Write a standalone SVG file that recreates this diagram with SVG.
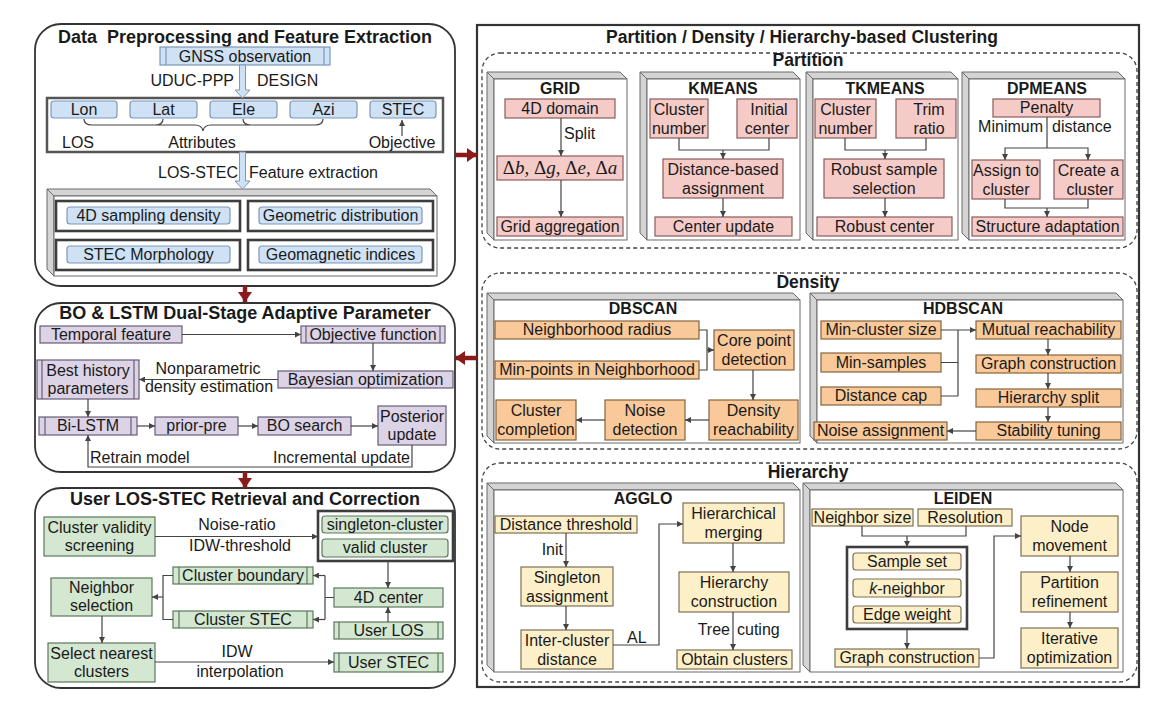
<svg xmlns="http://www.w3.org/2000/svg" width="1172" height="712" viewBox="0 0 1172 712">
<defs>
<style>
text{font-family:"Liberation Sans",Arial,sans-serif;font-size:16px;fill:#1a1a1a;text-anchor:middle}
.s{text-anchor:start}.e{text-anchor:end}
.h{font-weight:bold;font-size:17.5px}
.hl{font-weight:bold;font-size:18px}
.h2{font-weight:bold;font-size:16px}
.panel{fill:#fff;stroke:#333;stroke-width:1.8}
.dash{fill:none;stroke:#444;stroke-width:1.3;stroke-dasharray:4 3}
.bev{fill:#d4d4d4;stroke:#6a6a6a;stroke-width:1}
.front{fill:#fff;stroke:#6a6a6a;stroke-width:1}
.grp{fill:#fff;stroke:#3d3d3d;stroke-width:2.6}
.blue{fill:#cfe1f4;stroke:#7d98b9;stroke-width:1.2}
.pink{fill:#f5cbc8;stroke:#8a5c5c;stroke-width:1.2}
.orange{fill:#f9c999;stroke:#86653f;stroke-width:1.2}
.yellow{fill:#fdf0c9;stroke:#7d7055;stroke-width:1.2}
.green{fill:#d4e7d1;stroke:#5b785b;stroke-width:1.2}
.purple{fill:#dcd3e7;stroke:#675e77;stroke-width:1.2}
.c{fill:none;stroke:#444;stroke-width:1.2}
.ca{fill:none;stroke:#444;stroke-width:1.2;marker-end:url(#a)}
.red{fill:none;stroke:#8b1a1a;stroke-width:4.5;marker-end:url(#ar)}
.hol{fill:#cfe1f4;stroke:#7d98b9;stroke-width:1}
.math{font-family:"Liberation Serif","DejaVu Serif",serif;font-size:19px}
</style>
<marker id="a" viewBox="0 0 8 8" refX="8" refY="4" markerWidth="6" markerHeight="6" markerUnits="userSpaceOnUse" orient="auto"><path d="M0,0 L8,4 L0,8 z" fill="#444"/></marker>
<marker id="ar" viewBox="0 0 10 10" refX="10" refY="5" markerWidth="10" markerHeight="14" markerUnits="userSpaceOnUse" orient="auto" preserveAspectRatio="none"><path d="M0,0 L10,5 L0,10 z" fill="#8b1a1a"/></marker>
</defs>

<!-- ===== Panel 1 ===== -->
<g id="panel-preprocessing">
<rect class="panel" x="35" y="24" width="420" height="262" rx="26"/>
<text class="hl" x="245" y="43" style="white-space:pre">Data  Preprocessing and Feature Extraction</text>
</g>
<g id="gnss">
<rect class="blue" x="160" y="47" width="170" height="18"/>
<line class="blue" x1="166" y1="47" x2="166" y2="65"/><line class="blue" x1="324" y1="47" x2="324" y2="65"/>
<text x="245" y="61.5">GNSS observation</text>
</g>
<g id="attributes">
<rect x="47" y="98" width="396" height="54" fill="#fff" stroke="#555" stroke-width="2.5"/>
<rect class="blue" x="51" y="101" width="66" height="17" rx="3"/><text x="84" y="115">Lon</text>
<rect class="blue" x="130" y="101" width="67" height="17" rx="3"/><text x="163.5" y="115">Lat</text>
<rect class="blue" x="210" y="101" width="67" height="17" rx="3"/><text x="243.5" y="115">Ele</text>
<rect class="blue" x="290" y="101" width="67" height="17" rx="3"/><text x="323.5" y="115">Azi</text>
<rect class="blue" x="370" y="101" width="66" height="17" rx="3"/><text x="403" y="115">STEC</text>
<path class="c" d="M84,119 Q84,125 92,125 L195,125 Q202,125 203,131 Q204,125 211,125 L315,125 Q323,125 323,119 M155,125 Q163,125 163,119 M243,119 Q243,125 251,125"/>
<text x="78" y="148">LOS</text>
<text x="202" y="148">Attributes</text>
<text x="402" y="148">Objective</text>
</g>
<g id="features">
<polygon class="bev" points="47,189 430,189 437,196 54,196"/>
<polygon class="bev" points="47,189 54,196 54,276 47,269"/>
<rect class="front" x="54" y="196" width="383" height="80"/>
<rect class="grp" x="56" y="201" width="184" height="30"/>
<rect class="grp" x="248" y="201" width="185" height="30"/>
<rect class="grp" x="56" y="240" width="184" height="30"/>
<rect class="grp" x="248" y="240" width="185" height="30"/>
<rect class="blue" x="67" y="207" width="163" height="17" rx="3"/><text x="148.5" y="221">4D sampling density</text>
<rect class="blue" x="259" y="207" width="163" height="17" rx="3"/><text x="340.5" y="221">Geometric distribution</text>
<rect class="blue" x="67" y="246" width="163" height="17" rx="3"/><text x="148.5" y="260">STEC Morphology</text>
<rect class="blue" x="259" y="246" width="163" height="17" rx="3"/><text x="340.5" y="260">Geomagnetic indices</text>
</g>

<!-- ===== Panel 2 ===== -->
<g id="panel-bo-lstm">
<rect class="panel" x="35" y="303" width="420" height="169" rx="26"/>
<text class="hl" x="245" y="319">BO &amp; LSTM Dual-Stage Adaptive Parameter</text>
</g>
<g id="temporal"><rect class="purple" x="40" y="326" width="142" height="17"/><text x="111" y="340">Temporal feature</text></g>
<g id="objective"><rect class="purple" x="301" y="326" width="144" height="17"/>
<line class="purple" x1="306" y1="326" x2="306" y2="343"/><line class="purple" x1="440" y1="326" x2="440" y2="343"/>
<text x="373" y="340">Objective function</text></g>
<g id="bayes"><rect class="purple" x="278" y="371" width="175" height="17"/><text x="365.5" y="385">Bayesian optimization</text></g>
<g id="besthist"><rect class="purple" x="37" y="360" width="102" height="39"/>
<line class="purple" x1="42" y1="360" x2="42" y2="399"/><line class="purple" x1="134" y1="360" x2="134" y2="399"/>
<text x="88"><tspan x="88" y="376">Best history</tspan><tspan x="88" y="394">parameters</tspan></text></g>
<g id="bilstm"><rect class="purple" x="39" y="417" width="98" height="18"/>
<line class="purple" x1="45" y1="417" x2="45" y2="435"/><line class="purple" x1="131" y1="417" x2="131" y2="435"/>
<text x="88" y="431">Bi-LSTM</text></g>
<g id="priorpre"><rect class="purple" x="155" y="417" width="83" height="18"/><text x="196.5" y="431">prior-pre</text></g>
<g id="bosearch"><rect class="purple" x="258" y="417" width="93" height="18"/><text x="304.5" y="431">BO search</text></g>
<g id="posterior"><rect class="purple" x="378" y="406" width="68" height="39"/>
<text x="412"><tspan x="412" y="422">Posterior</tspan><tspan x="412" y="440">update</tspan></text></g>

<!-- ===== Panel 3 ===== -->
<g id="panel-user">
<rect class="panel" x="35" y="488" width="420" height="200" rx="26"/>
<text class="hl" x="245" y="505">User LOS-STEC Retrieval and Correction</text>
</g>
<g id="validity"><rect class="green" x="44" y="517" width="111" height="39"/>
<text x="99.5"><tspan x="99.5" y="533">Cluster validity</tspan><tspan x="99.5" y="551">screening</tspan></text></g>
<g id="clustertypes"><rect class="grp" x="318" y="511" width="135" height="50"/>
<rect class="green" x="322" y="516" width="126" height="17" rx="3"/><text x="385" y="530">singleton-cluster</text>
<rect class="green" x="322" y="539" width="126" height="18" rx="3"/><text x="385" y="553">valid cluster</text></g>
<g id="boundary"><rect class="green" x="173" y="567" width="140" height="17"/>
<line class="green" x1="179" y1="567" x2="179" y2="584"/><line class="green" x1="307" y1="567" x2="307" y2="584"/>
<text x="243" y="581">Cluster boundary</text></g>
<g id="clusterstec"><rect class="green" x="173" y="611" width="140" height="17"/>
<line class="green" x1="179" y1="611" x2="179" y2="628"/><line class="green" x1="307" y1="611" x2="307" y2="628"/>
<text x="243" y="625">Cluster STEC</text></g>
<g id="neighbor"><rect class="green" x="51" y="578" width="101" height="38"/>
<text x="101.5"><tspan x="101.5" y="593">Neighbor</tspan><tspan x="101.5" y="611">selection</tspan></text></g>
<g id="center4d"><rect class="green" x="334" y="588" width="109" height="19"/><text x="388.5" y="603">4D center</text></g>
<g id="userlos"><rect class="green" x="334" y="622" width="109" height="17"/>
<line class="green" x1="339" y1="622" x2="339" y2="639"/><line class="green" x1="438" y1="622" x2="438" y2="639"/>
<text x="388.5" y="636">User LOS</text></g>
<g id="nearest"><rect class="green" x="48" y="643" width="107" height="39"/>
<text x="101.5"><tspan x="101.5" y="659">Select nearest</tspan><tspan x="101.5" y="677">clusters</tspan></text></g>
<g id="userstec"><rect class="green" x="334" y="653" width="109" height="19"/>
<line class="green" x1="339" y1="653" x2="339" y2="672"/><line class="green" x1="438" y1="653" x2="438" y2="672"/>
<text x="388.5" y="668">User STEC</text></g>

<!-- ===== Right panel ===== -->
<g id="panel-clustering">
<rect x="477" y="25" width="662" height="662" fill="#fff" stroke="#333" stroke-width="2.2"/>
<text class="h" x="802" y="43">Partition / Density / Hierarchy-based Clustering</text>
<rect class="dash" x="482" y="53" width="655" height="195" rx="18"/>
<text class="h" x="808" y="66">Partition</text>
<rect class="dash" x="482" y="273" width="655" height="176" rx="18"/>
<text class="h" x="808" y="288">Density</text>
<rect class="dash" x="482" y="463" width="655" height="219" rx="18"/>
<text class="h" x="808" y="478">Hierarchy</text>
</g>

<g id="grid">
<polygon class="bev" points="487,72 620,72 627,79 494,79"/><polygon class="bev" points="487,72 494,79 494,240 487,233"/>
<rect class="front" x="494" y="79" width="133" height="161"/>
<text class="h2" x="560" y="94">GRID</text>
<rect class="pink" x="505" y="99" width="110" height="19"/><text x="560" y="113.5">4D domain</text>
<rect class="pink" x="497" y="156" width="126" height="24"/>
<text class="math" x="560" y="174">Δ<tspan font-style="italic">b</tspan>, Δ<tspan font-style="italic">g</tspan>, Δ<tspan font-style="italic">e</tspan>, Δ<tspan font-style="italic">a</tspan></text>
<rect class="pink" x="497" y="217" width="126" height="19"/><text x="560" y="231.5">Grid aggregation</text>
</g>
<g id="kmeans">
<polygon class="bev" points="640,72 793,72 800,79 647,79"/><polygon class="bev" points="640,72 647,79 647,240 640,233"/>
<rect class="front" x="647" y="79" width="153" height="161"/>
<text class="h2" x="723" y="94">KMEANS</text>
<rect class="pink" x="650" y="99" width="58" height="39"/><text x="679"><tspan x="679" y="115">Cluster</tspan><tspan x="679" y="134">number</tspan></text>
<rect class="pink" x="737" y="99" width="60" height="39"/><text x="767"><tspan x="769" y="115">Initial</tspan><tspan x="767" y="134">center</tspan></text>
<rect class="pink" x="663" y="159" width="120" height="39"/><text x="723"><tspan x="723" y="175">Distance-based</tspan><tspan x="723" y="194">assignment</tspan></text>
<rect class="pink" x="655" y="217" width="137" height="19"/><text x="723.5" y="231.5">Center update</text>
</g>
<g id="tkmeans">
<polygon class="bev" points="806,72 951,72 958,79 813,79"/><polygon class="bev" points="806,72 813,79 813,240 806,233"/>
<rect class="front" x="813" y="79" width="145" height="161"/>
<text class="h2" x="885" y="94">TKMEANS</text>
<rect class="pink" x="815" y="99" width="61" height="39"/><text x="845.5"><tspan x="845.5" y="115">Cluster</tspan><tspan x="845.5" y="134">number</tspan></text>
<rect class="pink" x="896" y="99" width="60" height="39"/><text x="926"><tspan x="929" y="115">Trim</tspan><tspan x="929" y="134">ratio</tspan></text>
<rect class="pink" x="824" y="159" width="120" height="39"/><text x="884"><tspan x="884" y="175">Robust sample</tspan><tspan x="884" y="194">selection</tspan></text>
<rect class="pink" x="817" y="217" width="135" height="19"/><text x="884.5" y="231.5">Robust center</text>
</g>
<g id="dpmeans">
<polygon class="bev" points="962,72 1118,72 1125,79 969,79"/><polygon class="bev" points="962,72 969,79 969,240 962,233"/>
<rect class="front" x="969" y="79" width="156" height="161"/>
<text class="h2" x="1047" y="94">DPMEANS</text>
<rect class="pink" x="993" y="99" width="107" height="18"/><text x="1046.5" y="113">Penalty</text>
<text class="e" x="1043" y="132">Minimum</text><text class="s" x="1052" y="132">distance</text>
<rect class="pink" x="972" y="160" width="68" height="39"/><text x="1006"><tspan x="1006" y="176">Assign to</tspan><tspan x="1006" y="195">cluster</tspan></text>
<rect class="pink" x="1054" y="160" width="69" height="39"/><text x="1088.5"><tspan x="1088.5" y="176">Create a</tspan><tspan x="1090" y="195">cluster</tspan></text>
<rect class="pink" x="972" y="217" width="151" height="19"/><text x="1047.5" y="231.5">Structure adaptation</text>
</g>

<g id="dbscan">
<polygon class="bev" points="487,293 793,293 800,300 494,300"/><polygon class="bev" points="487,293 494,300 494,443 487,436"/>
<rect class="front" x="494" y="300" width="306" height="143"/>
<text class="h2" x="643" y="314">DBSCAN</text>
<rect class="orange" x="495" y="321" width="204" height="18"/><text x="597" y="335">Neighborhood radius</text>
<rect class="orange" x="495" y="361" width="204" height="18"/><text x="597" y="375">Min-points in Neighborhood</text>
<rect class="orange" x="714" y="330" width="80" height="40"/><text x="754"><tspan x="754" y="346">Core point</tspan><tspan x="754" y="365">detection</tspan></text>
<rect class="orange" x="709" y="400" width="89" height="40"/><text x="753.5"><tspan x="753.5" y="416">Density</tspan><tspan x="753.5" y="435">reachability</tspan></text>
<rect class="orange" x="605" y="400" width="80" height="40"/><text x="645"><tspan x="645" y="416">Noise</tspan><tspan x="645" y="435">detection</tspan></text>
<rect class="orange" x="496" y="400" width="80" height="40"/><text x="536"><tspan x="536" y="416">Cluster</tspan><tspan x="536" y="435">completion</tspan></text>
</g>
<g id="hdbscan">
<polygon class="bev" points="810,293 1116,293 1123,300 817,300"/><polygon class="bev" points="810,293 817,300 817,443 810,436"/>
<rect class="front" x="817" y="300" width="306" height="143"/>
<text class="h2" x="963" y="314">HDBSCAN</text>
<rect class="orange" x="821" y="321" width="120" height="18"/><text x="881" y="335">Min-cluster size</text>
<rect class="orange" x="821" y="353" width="120" height="19"/><text x="881" y="367.5">Min-samples</text>
<rect class="orange" x="821" y="387" width="120" height="18"/><text x="881" y="401">Distance cap</text>
<rect class="orange" x="976" y="321" width="145" height="18"/><text x="1048.5" y="335">Mutual reachability</text>
<rect class="orange" x="976" y="355" width="145" height="18"/><text x="1048.5" y="369">Graph construction</text>
<rect class="orange" x="976" y="389" width="145" height="18"/><text x="1048.5" y="403">Hierarchy split</text>
<rect class="orange" x="976" y="422" width="145" height="18"/><text x="1048.5" y="436">Stability tuning</text>
<rect class="orange" x="814" y="422" width="133" height="18"/><text x="880.5" y="436">Noise assignment</text>
</g>

<g id="agglo">
<polygon class="bev" points="487,483 793,483 800,490 494,490"/><polygon class="bev" points="487,483 494,490 494,672 487,665"/>
<rect class="front" x="494" y="490" width="306" height="182"/>
<text class="h2" x="643" y="504">AGGLO</text>
<rect class="yellow" x="495" y="516" width="142" height="17"/><text x="566" y="530">Distance threshold</text>
<rect class="yellow" x="521" y="567" width="92" height="39"/><text x="567"><tspan x="567" y="583">Singleton</tspan><tspan x="567" y="602">assignment</tspan></text>
<rect class="yellow" x="521" y="630" width="92" height="39"/><text x="567"><tspan x="567" y="646">Inter-cluster</tspan><tspan x="567" y="665">distance</tspan></text>
<rect class="yellow" x="683" y="503" width="101" height="40"/><text x="733.5"><tspan x="733.5" y="519">Hierarchical</tspan><tspan x="733.5" y="538">merging</tspan></text>
<rect class="yellow" x="679" y="572" width="110" height="40"/><text x="734"><tspan x="734" y="588">Hierarchy</tspan><tspan x="734" y="607">construction</tspan></text>
<rect class="yellow" x="677" y="650" width="115" height="19"/><text x="734.5" y="664.5">Obtain clusters</text>
</g>
<g id="leiden">
<polygon class="bev" points="803,483 1116,483 1123,490 810,490"/><polygon class="bev" points="803,483 810,490 810,672 803,665"/>
<rect class="front" x="810" y="490" width="313" height="182"/>
<text class="h2" x="963" y="504">LEIDEN</text>
<rect class="yellow" x="812" y="509" width="101" height="17"/><text x="862.5" y="523">Neighbor size</text>
<rect class="yellow" x="918" y="509" width="94" height="17"/><text x="965" y="523">Resolution</text>
<rect class="grp" x="847" y="547" width="120" height="82"/>
<rect class="yellow" x="853" y="553" width="108" height="17" rx="3"/><text x="907" y="567">Sample set</text>
<rect class="yellow" x="853" y="579" width="108" height="18" rx="3"/><text x="907" y="593.5"><tspan font-style="italic">k</tspan>-neighbor</text>
<rect class="yellow" x="853" y="606" width="108" height="17" rx="3"/><text x="907" y="620">Edge weight</text>
<rect class="yellow" x="835" y="649" width="144" height="18"/><text x="907" y="663">Graph construction</text>
<rect class="yellow" x="1021" y="516" width="97" height="40"/><text x="1069.5"><tspan x="1069.5" y="532">Node</tspan><tspan x="1069.5" y="551">movement</tspan></text>
<rect class="yellow" x="1021" y="572" width="97" height="40"/><text x="1069.5"><tspan x="1069.5" y="588">Partition</tspan><tspan x="1069.5" y="607">refinement</tspan></text>
<rect class="yellow" x="1021" y="628" width="97" height="40"/><text x="1069.5"><tspan x="1069.5" y="644">Iterative</tspan><tspan x="1069.5" y="663">optimization</tspan></text>
</g>

<!-- ===== Connectors ===== -->
<g id="connectors">
<polygon class="hol" points="239.5,65 245.5,65 245.5,90 250,90 242.5,98 235,90 239.5,90"/>
<text class="e" x="234" y="86">UDUC-PPP</text><text class="s" x="257" y="86">DESIGN</text>
<line class="ca" x1="402" y1="136" x2="402" y2="120"/>
<polygon class="hol" points="239.5,152 245.5,152 245.5,181 250,181 242.5,189 235,181 239.5,181"/>
<text class="e" x="238" y="178">LOS-STEC</text><text class="s" x="249" y="178">Feature extraction</text>

<line class="red" x1="245" y1="286" x2="245" y2="302"/>
<line class="red" x1="455" y1="155" x2="477" y2="155"/>
<line class="red" x1="477" y1="358" x2="455" y2="358"/>
<line class="red" x1="245" y1="472" x2="245" y2="488"/>

<line class="ca" x1="182" y1="334.5" x2="301" y2="334.5"/>
<line class="ca" x1="373" y1="343" x2="373" y2="371"/>
<line class="ca" x1="278" y1="379.5" x2="139" y2="379.5"/>
<text x="208" y="374">Nonparametric</text><text x="209" y="392">density estimation</text>
<line class="ca" x1="88" y1="399" x2="88" y2="417"/>
<line class="ca" x1="137" y1="426" x2="155" y2="426"/>
<line class="ca" x1="238" y1="426" x2="258" y2="426"/>
<line class="ca" x1="351" y1="426" x2="378" y2="426"/>
<path class="ca" d="M412,445 V467 H88 V435"/>
<text class="s" x="90" y="463">Retrain model</text><text class="e" x="410" y="463">Incremental update</text>

<line class="ca" x1="155" y1="536.5" x2="318" y2="536.5"/>
<text x="237" y="530">Noise-ratio</text><text x="240" y="551">IDW-threshold</text>
<line class="ca" x1="388" y1="561" x2="388" y2="588"/>
<line class="ca" x1="388" y1="622" x2="388" y2="607"/>
<path class="c" d="M334,597.5 H325 M325,575.5 V619.5"/>
<line class="ca" x1="325" y1="575.5" x2="313" y2="575.5"/>
<line class="ca" x1="325" y1="619.5" x2="313" y2="619.5"/>
<path class="c" d="M173,575.5 H163 V619.5 H173"/>
<line class="ca" x1="163" y1="597" x2="152" y2="597"/>
<line class="ca" x1="102" y1="616" x2="102" y2="643"/>
<line class="ca" x1="155" y1="662" x2="334" y2="662"/>
<text x="237" y="657">IDW</text><text x="240" y="677">interpolation</text>

<line class="ca" x1="561" y1="118" x2="561" y2="156"/>
<text class="s" x="564" y="139">Split</text>
<line class="ca" x1="561" y1="180" x2="561" y2="217"/>

<path class="c" d="M679,138 V150 H769 V138"/>
<line class="ca" x1="723" y1="150" x2="723" y2="159"/>
<line class="ca" x1="723" y1="198" x2="723" y2="217"/>

<path class="c" d="M845,138 V150 H926 V138"/>
<line class="ca" x1="885" y1="150" x2="885" y2="159"/>
<line class="ca" x1="885" y1="198" x2="885" y2="217"/>

<line class="c" x1="1047" y1="117" x2="1047" y2="148"/>
<path class="ca" d="M1047,148 H1005 V160"/>
<path class="ca" d="M1047,148 H1088 V160"/>
<path class="c" d="M1005,199 V208 H1088 V199"/>
<line class="ca" x1="1047" y1="208" x2="1047" y2="217"/>

<path class="c" d="M699,330 H707 V370 H699"/>
<line class="ca" x1="707" y1="350" x2="714" y2="350"/>
<line class="ca" x1="753" y1="370" x2="753" y2="400"/>
<line class="ca" x1="709" y1="420" x2="685" y2="420"/>
<line class="ca" x1="605" y1="420" x2="576" y2="420"/>

<path class="c" d="M941,362.5 H958 M941,396 H958 M958,330 V396"/>
<line class="ca" x1="941" y1="330" x2="976" y2="330"/>
<line class="ca" x1="1048" y1="339" x2="1048" y2="355"/>
<line class="ca" x1="1048" y1="373" x2="1048" y2="389"/>
<line class="ca" x1="1048" y1="407" x2="1048" y2="422"/>
<line class="ca" x1="976" y1="431" x2="947" y2="431"/>

<line class="ca" x1="566" y1="533" x2="566" y2="567"/>
<text class="e" x="563" y="555">Init</text>
<line class="ca" x1="566" y1="606" x2="566" y2="630"/>
<path class="ca" d="M613,645 H659 V524 H683"/>
<text class="s" x="627" y="643">AL</text>
<line class="ca" x1="733" y1="543" x2="733" y2="572"/>
<line class="ca" x1="733" y1="612" x2="733" y2="650"/>
<text class="e" x="730" y="635">Tree</text><text class="s" x="737" y="635">cuting</text>

<path class="c" d="M862,526 V536 H966 V526"/>
<line class="ca" x1="907" y1="536" x2="907" y2="547"/>
<line class="ca" x1="907" y1="629" x2="907" y2="649"/>
<path class="ca" d="M979,658 H994 V536 H1021"/>
<line class="ca" x1="1070" y1="556" x2="1070" y2="572"/>
<line class="ca" x1="1070" y1="612" x2="1070" y2="628"/>
</g>
</svg>
